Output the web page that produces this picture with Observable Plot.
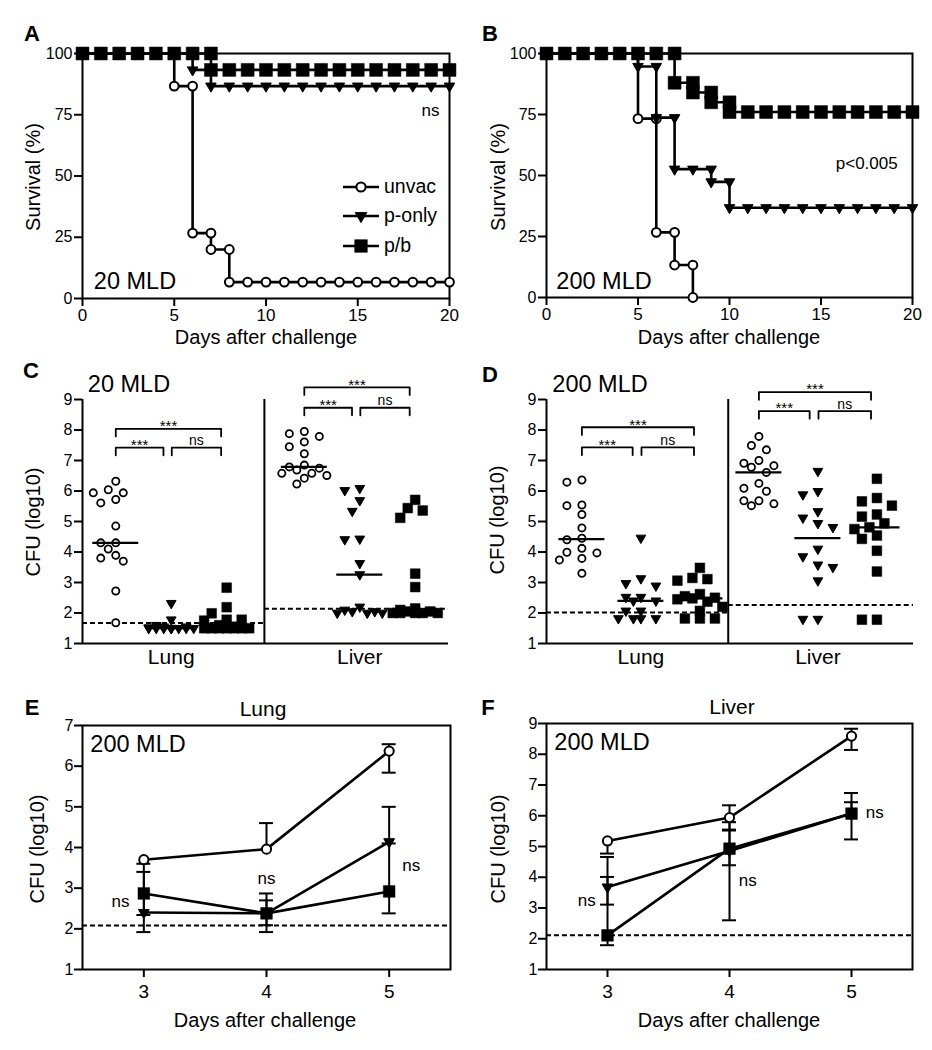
<!DOCTYPE html>
<html>
<head>
<meta charset="utf-8">
<script src="https://cdn.jsdelivr.net/npm/d3@7"></script>
<script src="https://cdn.jsdelivr.net/npm/@observablehq/plot@0.6"></script>
<style>
  body { margin: 0; background: #fff; }
  #root { position: relative; width: 932px; height: 1050px; overflow: hidden; background: #fff;
          font-family: "Liberation Sans", Arial, Helvetica, sans-serif; color: #000; }
  .panel { position: absolute; }
  .t { position: absolute; white-space: nowrap; line-height: 1; transform: translate(-50%, -50%); }
  .rot { transform: translate(-50%, -50%) rotate(-90deg); }
  .letter { font-family: "Liberation Sans Narrow", "Liberation Sans", Arial, sans-serif; font-weight: bold;
            font-size: 22px; font-stretch: condensed; }
  .lg { position: absolute; white-space: nowrap; line-height: 1; transform: translateY(-50%); font-size: 19.5px; }
</style>
</head>
<body>
<div id="root"></div>
<script>
// ---------------- DATA ----------------
const groupNames = ["unvac", "p-only", "p/b"];

// A: survival (%) per day 0..20, 20 MLD
const survA_unvac = [100,100,100,100,100,86.7,26.7,20,6.7,6.7,6.7,6.7,6.7,6.7,6.7,6.7,6.7,6.7,6.7,6.7,6.7];
const survA_ponly = [100,100,100,100,100,100,93.3,86.7,86.7,86.7,86.7,86.7,86.7,86.7,86.7,86.7,86.7,86.7,86.7,86.7,86.7];
const survA_pb    = [100,100,100,100,100,100,100,93.3,93.3,93.3,93.3,93.3,93.3,93.3,93.3,93.3,93.3,93.3,93.3,93.3,93.3];
// B: survival (%) per day, 200 MLD
const survB_unvac = [100,100,100,100,100,73.3,26.7,13.3,0];
const survB_ponly = [100,100,100,100,100,94.7,73.7,52.6,52.6,47.4,36.8,36.8,36.8,36.8,36.8,36.8,36.8,36.8,36.8,36.8,36.8];
const survB_pb    = [100,100,100,100,100,100,100,88,84,80,76,76,76,76,76,76,76,76,76,76,76];
const dayTicks = [0, 5, 10, 15, 20];
const survTicks = [0, 25, 50, 75, 100];
const noteA = {t: "ns", day: 18.97, v: 76.8};
const noteB = {t: "p<0.005", day: 17.5, v: 54.8};

// C: CFU (log10), 20 MLD
const C_lung_unvac  = [6.32,6.04,5.94,5.94,5.72,5.61,4.85,4.30,4.30,4.10,3.89,3.80,3.70,2.72,1.68];
const C_lung_ponly  = [2.32,1.78,1.60,1.55,1.55,1.52,1.50,1.50,1.50,1.50,1.50,1.50,1.50,1.50,1.50];
const C_lung_pb     = [2.83,2.19,1.99,1.78,1.78,1.75,1.60,1.55,1.50,1.50,1.50,1.50,1.50,1.50,1.50];
const C_liver_unvac = [7.95,7.88,7.79,7.61,7.45,7.22,6.85,6.79,6.75,6.69,6.58,6.58,6.51,6.42,6.23];
const C_liver_ponly = [6.09,6.02,5.69,5.34,4.43,4.41,3.63,3.26,2.20,2.10,2.05,2.05,2.00,2.00,2.00];
const C_liver_pb    = [5.71,5.44,5.36,5.12,3.29,2.85,2.15,2.10,2.05,2.05,2.00,2.00,2.00,2.00,2.00];
const limitC = [1.67, 2.14];          // detection limit: lung, liver
const bracketTopC = [8.04, 9.40];     // lung, liver
const bracketLowC = [7.42, 8.73];

// D: CFU (log10), 200 MLD
const D_lung_unvac  = [6.36,6.29,5.54,5.52,5.23,4.79,4.45,4.40,4.12,3.99,3.97,3.79,3.74,3.30];
const D_lung_ponly  = [4.46,3.13,2.97,2.89,2.52,2.52,2.40,2.40,2.07,2.07,1.82,1.82,1.82,1.82];
const D_lung_pb     = [3.48,3.15,3.11,3.06,2.62,2.55,2.50,2.48,2.45,2.37,2.20,2.07,1.82,1.82,1.82];
const D_liver_unvac = [7.79,7.49,7.35,7.00,6.91,6.83,6.78,6.61,6.25,6.09,5.99,5.68,5.68,5.58,5.52];
const D_liver_ponly = [6.65,5.99,5.88,5.33,5.12,4.94,4.81,4.10,3.85,3.58,3.50,3.06,1.80,1.80];
const D_liver_pb    = [6.40,5.77,5.66,5.52,5.23,5.16,4.94,4.81,4.75,4.54,4.43,4.04,3.36,1.78,1.78];
const limitD = [2.02, 2.26];
const bracketTopD = [8.09, 9.24];
const bracketLowD = [7.43, 8.62];
const organs = ["Lung", "Liver"];
const bracketLabels = ["***", "***", "ns"]; // top, lower-left, lower-right
const cfuTicks = [1,2,3,4,5,6,7,8,9];

// E: Lung, 200 MLD, mean with error bars
const daysEF = [3, 4, 5];
const E_unvac = [3.70, 3.96, 6.37], E_unvac_hi = [null, 4.60, 6.54], E_unvac_lo = [null, null, 5.84];
const E_ponly = [2.40, 2.38, 4.14], E_ponly_hi = [3.60, 2.87, 5.00], E_ponly_lo = [1.92, 1.92, null];
const E_pb    = [2.87, 2.38, 2.92], E_pb_hi    = [3.40, 2.70, 4.10], E_pb_lo    = [2.34, 2.09, 2.38];
const limitE = 2.08;
const nsE_day = [2.81, 4.00, 5.18], nsE_val = [2.66, 3.24, 3.56];
// F: Liver, 200 MLD
const F_unvac = [5.18, 5.94, 8.59], F_unvac_hi = [null, 6.34, 8.83], F_unvac_lo = [4.77, 5.55, 8.14];
const F_ponly = [3.68, 4.85, 6.07], F_ponly_hi = [4.01, 5.52, 6.74], F_ponly_lo = [3.11, 4.39, 5.23];
const F_pb    = [2.11, 4.93, 6.07], F_pb_hi    = [4.66, 5.79, 6.44], F_pb_lo    = [1.79, 2.60, null];
const limitF = 2.11;
const nsF_day = [2.83, 4.15, 5.19], nsF_val = [3.25, 3.90, 6.09];

// ---------------- RENDER ----------------
const FONT = '"Liberation Sans", Arial, Helvetica, sans-serif';
const root = document.getElementById("root");
const baseStyle = (fs) => ({fontFamily: FONT, fontSize: fs + "px", color: "black", background: "white", overflow: "visible"});
const intFmt = d3.format("d");

function place(svg, left, top) {
  const d = document.createElement("div");
  d.className = "panel"; d.style.left = left + "px"; d.style.top = top + "px";
  d.appendChild(svg); root.appendChild(d);
}
function label(text, x, y, size, cls = "") {
  const d = document.createElement("div");
  d.className = "t " + cls; d.textContent = text;
  d.style.left = x + "px"; d.style.top = y + "px";
  if (size) d.style.fontSize = size + "px";
  root.appendChild(d);
}

function symOpts(g, s) {
  if (g === "unvac") return {symbol: "circle", r: s.c, fill: "white", stroke: "black", strokeWidth: s.cw};
  if (g === "p-only") return {symbol: "triangle", r: s.t, fill: "black", stroke: "black", strokeWidth: 1, rotate: 180};
  return {symbol: "square", r: s.s, fill: "black", stroke: "black", strokeWidth: 0.5};
}

// ---- Kaplan-Meier panels
function kmPanel(cfg) {
  const {W, H, mL, mR, mT, mB, series, note} = cfg;
  const lineRows = [], dotRows = [];
  series.forEach((s, gi) => {
    const g = groupNames[gi];
    s.forEach((v, d) => { lineRows.push({g, day: d, v}); dotRows.push({g, day: d, v}); });
    for (let d = 1; d < s.length; d++) if (s[d] !== s[d - 1]) dotRows.push({g, day: d, v: s[d - 1]});
  });
  const sz = {c: 4.4, cw: 2, t: 3.9, s: 7.3};
  return Plot.plot({
    width: W, height: H, marginLeft: mL, marginRight: mR, marginTop: mT, marginBottom: mB,
    style: baseStyle(17),
    x: {domain: [0, 20]}, y: {domain: [0, 100]},
    marks: [
      Plot.frame({stroke: "black", strokeWidth: 2}),
      Plot.axisX({ticks: dayTicks, tickFormat: intFmt, tickSize: 8, tickPadding: 2, strokeWidth: 2, label: null, fontSize: 17}),
      Plot.axisY({ticks: survTicks, tickFormat: intFmt, tickSize: 8, tickPadding: 2, strokeWidth: 2, label: null, fontSize: 16}),
      Plot.line(lineRows, {x: "day", y: "v", z: "g", curve: "step-after", stroke: "black", strokeWidth: 2.6}),
      ...groupNames.map(g => Plot.dot(dotRows.filter(r => r.g === g), {x: "day", y: "v", ...symOpts(g, sz)})),
      Plot.text([note], {x: "day", y: "v", text: "t", fontSize: 17})
    ]
  });
}

// ---- dodge (beeswarm-like) offsets in pixels
function dodge(values, yPx, rPx, step, maxSteps) {
  const cands = [0];
  for (let k = 1; k <= maxSteps; k++) cands.push(-k * step, k * step);
  const placed = [], out = [];
  for (const v of values) {
    const y = v * yPx;
    let best = 0, bestD = -1;
    for (const c of cands) {
      let minD = Infinity;
      for (const p of placed) minD = Math.min(minD, Math.hypot(c - p.x, y - p.y));
      if (minD >= 2 * rPx) { best = c; break; }
      if (minD > bestD) { bestD = minD; best = c; }
    }
    placed.push({x: best, y}); out.push(best);
  }
  return out;
}

function scatterPanel(cfg) {
  const {W, H, mL, mR, mT, mB, xDomain, starts, sep, series, limits, brTop, brLow} = cfg;
  const innerW = W - mL - mR, innerH = H - mT - mB;
  const slotPx = innerW / (xDomain[1] - xDomain[0]);
  const yPx = innerH / 8;
  const pts = [], meds = [];
  series.forEach((vals, k) => {
    const organ = Math.floor(k / 3), g = groupNames[k % 3];
    const slot = starts[organ] + (k % 3);
    const offs = dodge(vals, yPx, g === "unvac" ? 4.6 : 5.4, 7.5, 3);
    vals.forEach((v, i) => pts.push({g, x: slot + offs[i] / slotPx, v}));
    meds.push({m: d3.median(vals), x1: slot - 23 / slotPx, x2: slot + 23 / slotPx});
  });
  const lims = [
    {y: limits[0], x1: xDomain[0], x2: sep},
    {y: limits[1], x1: sep, x2: xDomain[1]}
  ];
  const leg = 0.25;
  const brPath = [], brText = [];
  starts.forEach((g0, o) => {
    const spans = [
      [g0, g0 + 2 - 0.1, brTop[o]],
      [g0, g0 + 1 - 0.14, brLow[o]],
      [g0 + 1 + 0.01, g0 + 2 - 0.1, brLow[o]]
    ];
    spans.forEach(([a, b, y], j) => {
      const id = o + "-" + j;
      brPath.push({id, x: a, y: y - leg}, {id, x: a, y}, {id, x: b, y}, {id, x: b, y: y - leg});
      brText.push({x: (a + b) / 2, y, t: bracketLabels[j]});
    });
  });
  const sz = {c: 3.6, cw: 1.8, t: 3.6, s: 5.5};
  const centers = starts.map(s => s + 1);
  return Plot.plot({
    width: W, height: H, marginLeft: mL, marginRight: mR, marginTop: mT, marginBottom: mB,
    style: baseStyle(16),
    x: {domain: xDomain}, y: {domain: [1, 9]},
    marks: [
      Plot.ruleX([xDomain[0]], {stroke: "black", strokeWidth: 2}),
      Plot.ruleY([1], {stroke: "black", strokeWidth: 2}),
      Plot.ruleX([sep], {stroke: "black", strokeWidth: 2}),
      Plot.axisY({ticks: cfuTicks, tickFormat: intFmt, tickSize: 8, tickPadding: 2, strokeWidth: 2, label: null, fontSize: 16}),
      Plot.axisX({ticks: centers, tickFormat: d => (d < sep ? organs[0] : organs[1]), tickSize: 0, tickPadding: 6, label: null, fontSize: 21}),
      Plot.ruleY(lims, {y: "y", x1: "x1", x2: "x2", stroke: "black", strokeWidth: 2, strokeDasharray: "5,3"}),
      ...groupNames.map(g => Plot.dot(pts.filter(p => p.g === g), {x: "x", y: "v", ...symOpts(g, sz)})),
      Plot.ruleY(meds, {y: "m", x1: "x1", x2: "x2", stroke: "black", strokeWidth: 2.2}),
      Plot.line(brPath, {x: "x", y: "y", z: "id", stroke: "black", strokeWidth: 1.8}),
      Plot.text(brText.filter(d => d.t !== "ns"), {x: "x", y: "y", text: "t", fontSize: 15, dy: -2.5}),
      Plot.text(brText.filter(d => d.t === "ns"), {x: "x", y: "y", text: "t", fontSize: 14, dy: -7})
    ]
  });
}

function timePanel(cfg) {
  const {W, H, mL, mR, mT, mB, yMax, series, limit, nsDay, nsVal} = cfg;
  const innerW = W - mL - mR;
  const dayPx = innerW / 3;
  const cap = 7 / dayPx;
  const rows = [], bars = [], caps = [];
  series.forEach(([m, hi, lo], gi) => {
    const g = groupNames[gi];
    daysEF.forEach((day, i) => {
      rows.push({g, day, v: m[i]});
      [hi[i], lo[i]].forEach(e => {
        if (e != null) {
          bars.push({day, y1: m[i], y2: e});
          caps.push({y: e, x1: day - cap, x2: day + cap});
        }
      });
    });
  });
  const ns = nsDay.map((d, i) => ({day: d, v: nsVal[i], t: "ns"}));
  const sz = {c: 4.6, cw: 2, t: 4.0, s: 6.6};
  return Plot.plot({
    width: W, height: H, marginLeft: mL, marginRight: mR, marginTop: mT, marginBottom: mB,
    style: baseStyle(16),
    x: {domain: [2.5, 5.5]}, y: {domain: [1, yMax]},
    marks: [
      Plot.frame({stroke: "black", strokeWidth: 2}),
      Plot.axisX({ticks: daysEF, tickFormat: intFmt, tickSize: 8, tickPadding: 7, strokeWidth: 2, label: null, fontSize: 19}),
      Plot.axisY({ticks: d3.range(1, yMax + 1), tickFormat: intFmt, tickSize: 8, tickPadding: 1, strokeWidth: 2, label: null, fontSize: 16}),
      Plot.ruleY([limit], {stroke: "black", strokeWidth: 2, strokeDasharray: "5,3"}),
      Plot.ruleX(bars, {x: "day", y1: "y1", y2: "y2", stroke: "black", strokeWidth: 2}),
      Plot.ruleY(caps, {y: "y", x1: "x1", x2: "x2", stroke: "black", strokeWidth: 2}),
      Plot.line(rows, {x: "day", y: "v", z: "g", stroke: "black", strokeWidth: 2.6}),
      ...groupNames.map(g => Plot.dot(rows.filter(r => r.g === g), {x: "day", y: "v", ...symOpts(g, sz)})),
      Plot.text(ns, {x: "day", y: "v", text: "t", fontSize: 17})
    ]
  });
}

// Panels
place(kmPanel({W: 466, H: 350, mL: 82, mR: 17, mT: 53, mB: 52,
  series: [survA_unvac, survA_ponly, survA_pb], note: noteA}), 0, 0);
place(kmPanel({W: 466, H: 350, mL: 80, mR: 20, mT: 53, mB: 53,
  series: [survB_unvac, survB_ponly, survB_pb], note: noteB}), 466, 0);

place(scatterPanel({W: 466, H: 330, mL: 82, mR: 18, mT: 49, mB: 37, xDomain: [0, 6.6], starts: [0.6, 4.0], sep: 3.28,
  series: [C_lung_unvac, C_lung_ponly, C_lung_pb, C_liver_unvac, C_liver_ponly, C_liver_pb],
  limits: limitC, brTop: bracketTopC, brLow: bracketLowC}), 0, 350);
place(scatterPanel({W: 466, H: 330, mL: 80, mR: 19, mT: 49, mB: 37, xDomain: [0, 6.22], starts: [0.6, 3.6], sep: 3.08,
  series: [D_lung_unvac, D_lung_ponly, D_lung_pb, D_liver_unvac, D_liver_ponly, D_liver_pb],
  limits: limitD, brTop: bracketTopD, brLow: bracketLowD}), 466, 350);

place(timePanel({W: 466, H: 360, mL: 82, mR: 16, mT: 35, mB: 81, yMax: 7,
  series: [[E_unvac, E_unvac_hi, E_unvac_lo], [E_ponly, E_ponly_hi, E_ponly_lo], [E_pb, E_pb_hi, E_pb_lo]],
  limit: limitE, nsDay: nsE_day, nsVal: nsE_val}), 0, 690);
place(timePanel({W: 466, H: 360, mL: 80, mR: 20, mT: 33, mB: 81, yMax: 9,
  series: [[F_unvac, F_unvac_hi, F_unvac_lo], [F_ponly, F_ponly_hi, F_ponly_lo], [F_pb, F_pb_hi, F_pb_lo]],
  limit: limitF, nsDay: nsF_day, nsVal: nsF_val}), 466, 690);

// Panel letters
[["A", 32, 34], ["B", 490, 34], ["C", 31, 371], ["D", 490, 375], ["E", 32, 708], ["F", 488, 708]]
  .forEach(([t, x, y]) => label(t, x, y, null, "letter"));
// Axis titles
label("Survival (%)", 33, 177, 20, "rot");
label("Survival (%)", 498, 177, 20, "rot");
label("Days after challenge", 266, 337, 20);
label("Days after challenge", 729, 337, 20);
label("CFU (log10)", 33, 522, 20, "rot");
label("CFU (log10)", 497, 520, 20, "rot");
label("CFU (log10)", 37, 849, 20, "rot");
label("CFU (log10)", 498, 849, 20, "rot");
label("Days after challenge", 265, 1020, 20);
label("Days after challenge", 729, 1020, 20);
// Dose labels and titles
label("20 MLD", 135, 282, 23.5);
label("200 MLD", 604, 282, 23.5);
label("20 MLD", 129, 385, 23.5);
label("200 MLD", 600, 385, 23.5);
label("200 MLD", 138, 745, 23.5);
label("200 MLD", 602, 743, 23.5);
label("Lung", 263, 708, 21);
label("Liver", 732, 706, 21);

// Legend (panel A)
const legendShapes = {
  "unvac": '<circle cx="19" cy="9" r="4.6" fill="white" stroke="black" stroke-width="2"/>',
  "p-only": '<polygon points="13.2,5.6 24.8,5.6 19,15.6" fill="black" stroke="black" stroke-width="1"/>',
  "p/b": '<rect x="12.4" y="2.4" width="13.2" height="13.2" fill="black"/>'
};
groupNames.forEach((g, i) => {
  const y = 187 + i * 29.4;
  const s = document.createElement("div");
  s.style.position = "absolute"; s.style.left = "342px"; s.style.top = (y - 9) + "px";
  s.innerHTML = '<svg width="38" height="18"><line x1="1" y1="9" x2="37" y2="9" stroke="black" stroke-width="2.6"/>' + legendShapes[g] + '</svg>';
  root.appendChild(s);
  const t = document.createElement("div");
  t.className = "lg"; t.textContent = g; t.style.left = "384px"; t.style.top = y + "px";
  root.appendChild(t);
});
</script>
</body>
</html>
